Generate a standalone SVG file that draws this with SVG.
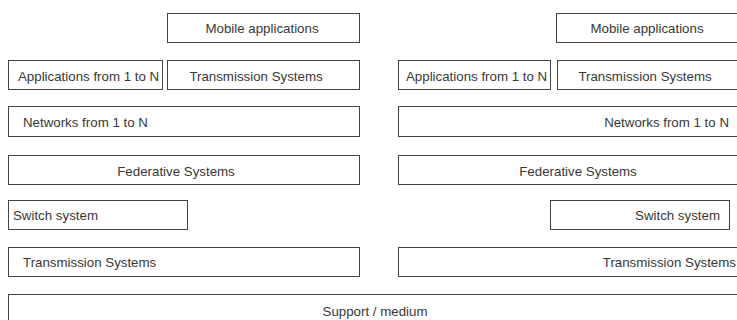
<svg xmlns="http://www.w3.org/2000/svg" width="737" height="320" viewBox="0 0 737 320">
<style>
rect{fill:#fff;stroke:#444;stroke-width:1}
text{font-family:"Liberation Sans",Arial,sans-serif;font-size:13.3px;fill:#383838}
.m{text-anchor:middle}
.e{text-anchor:end}
</style>
<rect x="0" y="0" width="737" height="320" style="stroke:none"/>
<g id="left-mobile"><rect x="167.5" y="13.5" width="192" height="29"/><text class="m" x="262" y="33">Mobile applications</text></g>
<g id="left-apps"><rect x="8.5" y="60.5" width="154" height="29"/><text x="18" y="81">Applications from 1 to N</text></g>
<g id="left-trans-top"><rect x="167.5" y="60.5" width="192" height="29"/><text class="m" x="256" y="81">Transmission Systems</text></g>
<g id="left-networks"><rect x="8.5" y="106.5" width="351" height="30"/><text x="23" y="127">Networks from 1 to N</text></g>
<g id="left-federative"><rect x="8.5" y="155.5" width="351" height="29"/><text class="m" x="176" y="176">Federative Systems</text></g>
<g id="left-switch"><rect x="8.5" y="200.5" width="179" height="29"/><text x="13" y="220">Switch system</text></g>
<g id="left-trans-bottom"><rect x="8.5" y="247.5" width="351" height="29"/><text x="23" y="267">Transmission Systems</text></g>
<g id="support"><rect x="8.5" y="294.5" width="740" height="40"/><text class="m" x="375" y="316">Support / medium</text></g>
<g id="right-mobile"><rect x="556.5" y="13.5" width="200" height="29"/><text class="m" x="647" y="33">Mobile applications</text></g>
<g id="right-apps"><rect x="398.5" y="60.5" width="152" height="29"/><text x="406" y="81">Applications from 1 to N</text></g>
<g id="right-trans-top"><rect x="557.5" y="60.5" width="200" height="29"/><text class="m" x="645" y="81">Transmission Systems</text></g>
<g id="right-networks"><rect x="398.5" y="106.5" width="360" height="30"/><text class="e" x="729" y="127">Networks from 1 to N</text></g>
<g id="right-federative"><rect x="398.5" y="155.5" width="360" height="29"/><text class="m" x="578" y="176">Federative Systems</text></g>
<g id="right-switch"><rect x="550.5" y="200.5" width="179" height="29"/><text class="e" x="720" y="220">Switch system</text></g>
<g id="right-trans-bottom"><rect x="398.5" y="247.5" width="360" height="29"/><text class="e" x="736" y="267">Transmission Systems</text></g>
<g id="connectors"></g>
</svg>
